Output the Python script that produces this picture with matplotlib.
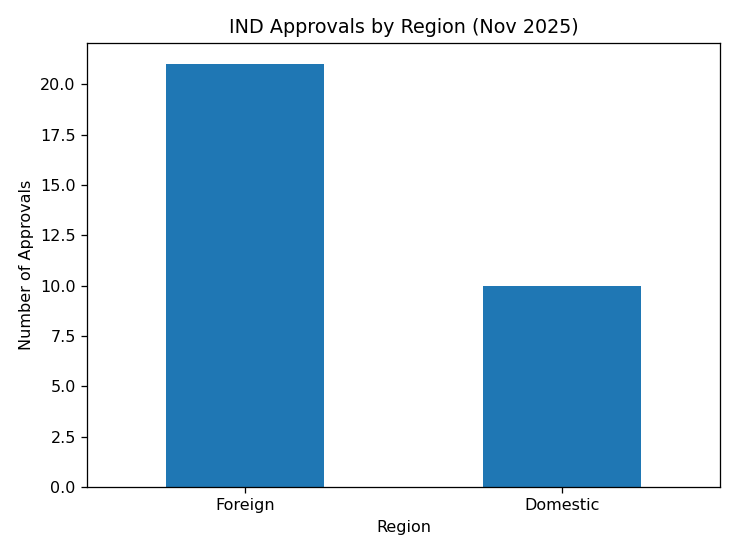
import matplotlib
matplotlib.use("Agg")
import matplotlib.pyplot as plt

regions = ["Foreign", "Domestic"]
approvals = [21, 10]

fig = plt.figure(figsize=(738/115, 554/115), dpi=115)
ax = fig.add_axes([87/738, 1-487/554, (720-87)/738, (487-43)/554])
ax.bar(range(len(regions)), approvals, width=0.5, color="#1f77b4")
ax.set_xticks(range(len(regions)))
ax.set_xticklabels(regions, rotation=0)
ax.set_xlim(-0.5, len(regions)-0.5)
ax.set_ylim(0, 22.05)
ax.set_xlabel("Region")
ax.set_ylabel("Number of Approvals")
ax.set_title("IND Approvals by Region (Nov 2025)")
fig.savefig("out.png", dpi=115)
